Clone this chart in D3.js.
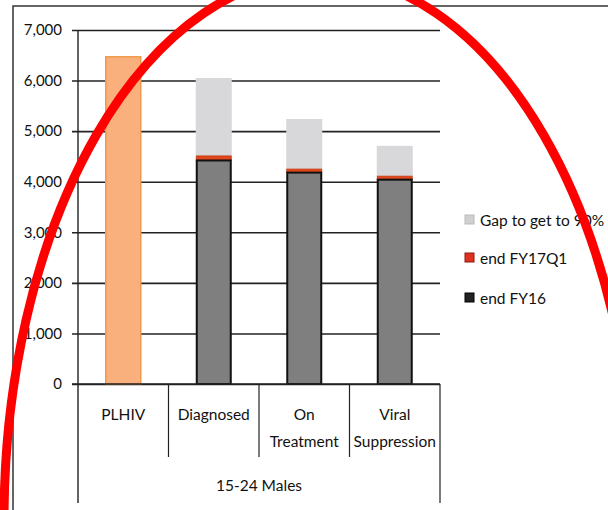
<!DOCTYPE html>
<html>
<head>
<meta charset="utf-8">
<script src="https://cdn.jsdelivr.net/npm/d3@7"></script>
<style>
  html, body { margin: 0; padding: 0; background: #fff; }
  svg { display: block; }
  text { font-family: Lato, "Open Sans", sans-serif; fill: #111; }
</style>
</head>
<body>
<svg id="chart" width="608" height="510"></svg>
<script>
// Cascade for 15-24 males
const categories = ["PLHIV", "Diagnosed", "On Treatment", "Viral Suppression"];
const categoryLines = [["PLHIV"], ["Diagnosed"], ["On", "Treatment"], ["Viral", "Suppression"]];
const groupLabel = "15-24 Males";
const plhiv = [6470, null, null, null];
const endFY16 = [null, 4420, 4180, 4040];
const endFY17Q1 = [null, 90, 70, 70];
const gapTo90 = [null, 1540, 990, 600];
const yTicks = [0, 1000, 2000, 3000, 4000, 5000, 6000, 7000];
const legendItems = ["Gap to get to 90%", "end FY17Q1", "end FY16"];

const svg = d3.select("#chart");

const plotLeft = 78, plotRight = 440, plotTop = 30, plotBottom = 384;

const x = d3.scaleBand().domain(categories).range([plotLeft, plotRight]).paddingInner(0).paddingOuter(0);
const y = d3.scaleLinear().domain([0, 7000]).range([plotBottom, plotTop]);
const barW = 36;

// Outer frame (top and left edges)
svg.append("path")
  .attr("d", "M13,510 L13,6 L608,6")
  .attr("fill", "none").attr("stroke", "#333").attr("stroke-width", 1.5);

// Gridlines and value labels
const yAxis = d3.axisLeft(y).tickValues(yTicks).tickSize(plotRight - 72).tickPadding(10)
  .tickFormat(d3.format(","));
const gy = svg.append("g").attr("transform", `translate(${plotRight},0)`).call(yAxis);
gy.select(".domain").remove();
gy.selectAll(".tick line").attr("stroke", "#222").attr("stroke-width", 1.6);
gy.selectAll(".tick text").attr("font-size", 15).attr("font-family", "Lato, sans-serif").attr("fill", "#111");

// Vertical axis line
svg.append("line").attr("x1", plotLeft).attr("x2", plotLeft).attr("y1", plotTop).attr("y2", 503)
  .attr("stroke", "#222").attr("stroke-width", 1.4);
svg.append("line").attr("x1", plotRight).attr("x2", plotRight).attr("y1", plotBottom).attr("y2", 503)
  .attr("stroke", "#222").attr("stroke-width", 1.2);

// Category separators
categories.slice(1).forEach(c => {
  svg.append("line").attr("x1", x(c)).attr("x2", x(c)).attr("y1", plotBottom).attr("y2", 457)
    .attr("stroke", "#222").attr("stroke-width", 1.2);
});

const cx = c => x(c) + x.bandwidth() / 2;

// PLHIV bar
categories.forEach((c, i) => {
  if (plhiv[i] == null) return;
  svg.append("rect")
    .attr("x", cx(c) - barW / 2 + 0.5).attr("y", y(plhiv[i]))
    .attr("width", barW - 1).attr("height", y(0) - y(plhiv[i]))
    .attr("fill", "#f9b07c").attr("stroke", "#f09a4a").attr("stroke-width", 1.5);
});

// Stacked bars: end FY16, end FY17Q1, gap
categories.forEach((c, i) => {
  if (endFY16[i] == null) return;
  const a = endFY16[i], b = a + endFY17Q1[i], t = b + gapTo90[i];
  const x0 = cx(c) - barW / 2;
  svg.append("rect").attr("x", x0).attr("y", y(t)).attr("width", barW).attr("height", y(b) - y(t))
    .attr("fill", "#d8d8da");
  svg.append("rect").attr("x", x0 + 0.5).attr("y", y(b)).attr("width", barW - 1).attr("height", y(a) - y(b))
    .attr("fill", "#e2461c").attr("stroke", "#c23a12").attr("stroke-width", 0.8);
  svg.append("rect").attr("x", x0 + 1).attr("y", y(a)).attr("width", barW - 2).attr("height", y(0) - y(a))
    .attr("fill", "#7f7f7f").attr("stroke", "#111").attr("stroke-width", 2);
});

// Baseline
svg.append("line").attr("x1", 72).attr("x2", plotRight).attr("y1", plotBottom).attr("y2", plotBottom)
  .attr("stroke", "#222").attr("stroke-width", 1.6);

// Category labels
categories.forEach((c, i) => {
  const t = svg.append("text").attr("x", cx(c)).attr("text-anchor", "middle").attr("font-size", 15.5);
  categoryLines[i].forEach((line, j) => {
    t.append("tspan").attr("x", cx(c)).attr("y", 420 + j * 27).text(line);
  });
});
svg.append("text").attr("x", (plotLeft + plotRight) / 2).attr("y", 491)
  .attr("text-anchor", "middle").attr("font-size", 15.5).text(groupLabel);

// Legend
const legendFill = ["#d0d0d0", "#e0301e", "#222"];
const legendStroke = ["#bbb", "#8a1a10", "#000"];
const legendY = [220, 258, 298];
legendItems.forEach((label, i) => {
  svg.append("rect").attr("x", 465).attr("y", legendY[i] - 5).attr("width", 9).attr("height", 9)
    .attr("fill", legendFill[i]).attr("stroke", legendStroke[i]).attr("stroke-width", 1);
  svg.append("text").attr("x", 480).attr("y", legendY[i] + 6).attr("font-size", 15.5).text(label);
});

// Red annotation ring
svg.append("ellipse").attr("cx", 320).attr("cy", 520).attr("rx", 316).attr("ry", 545)
  .attr("fill", "none").attr("stroke", "#ff0000").attr("stroke-width", 9);
</script>
</body>
</html>
